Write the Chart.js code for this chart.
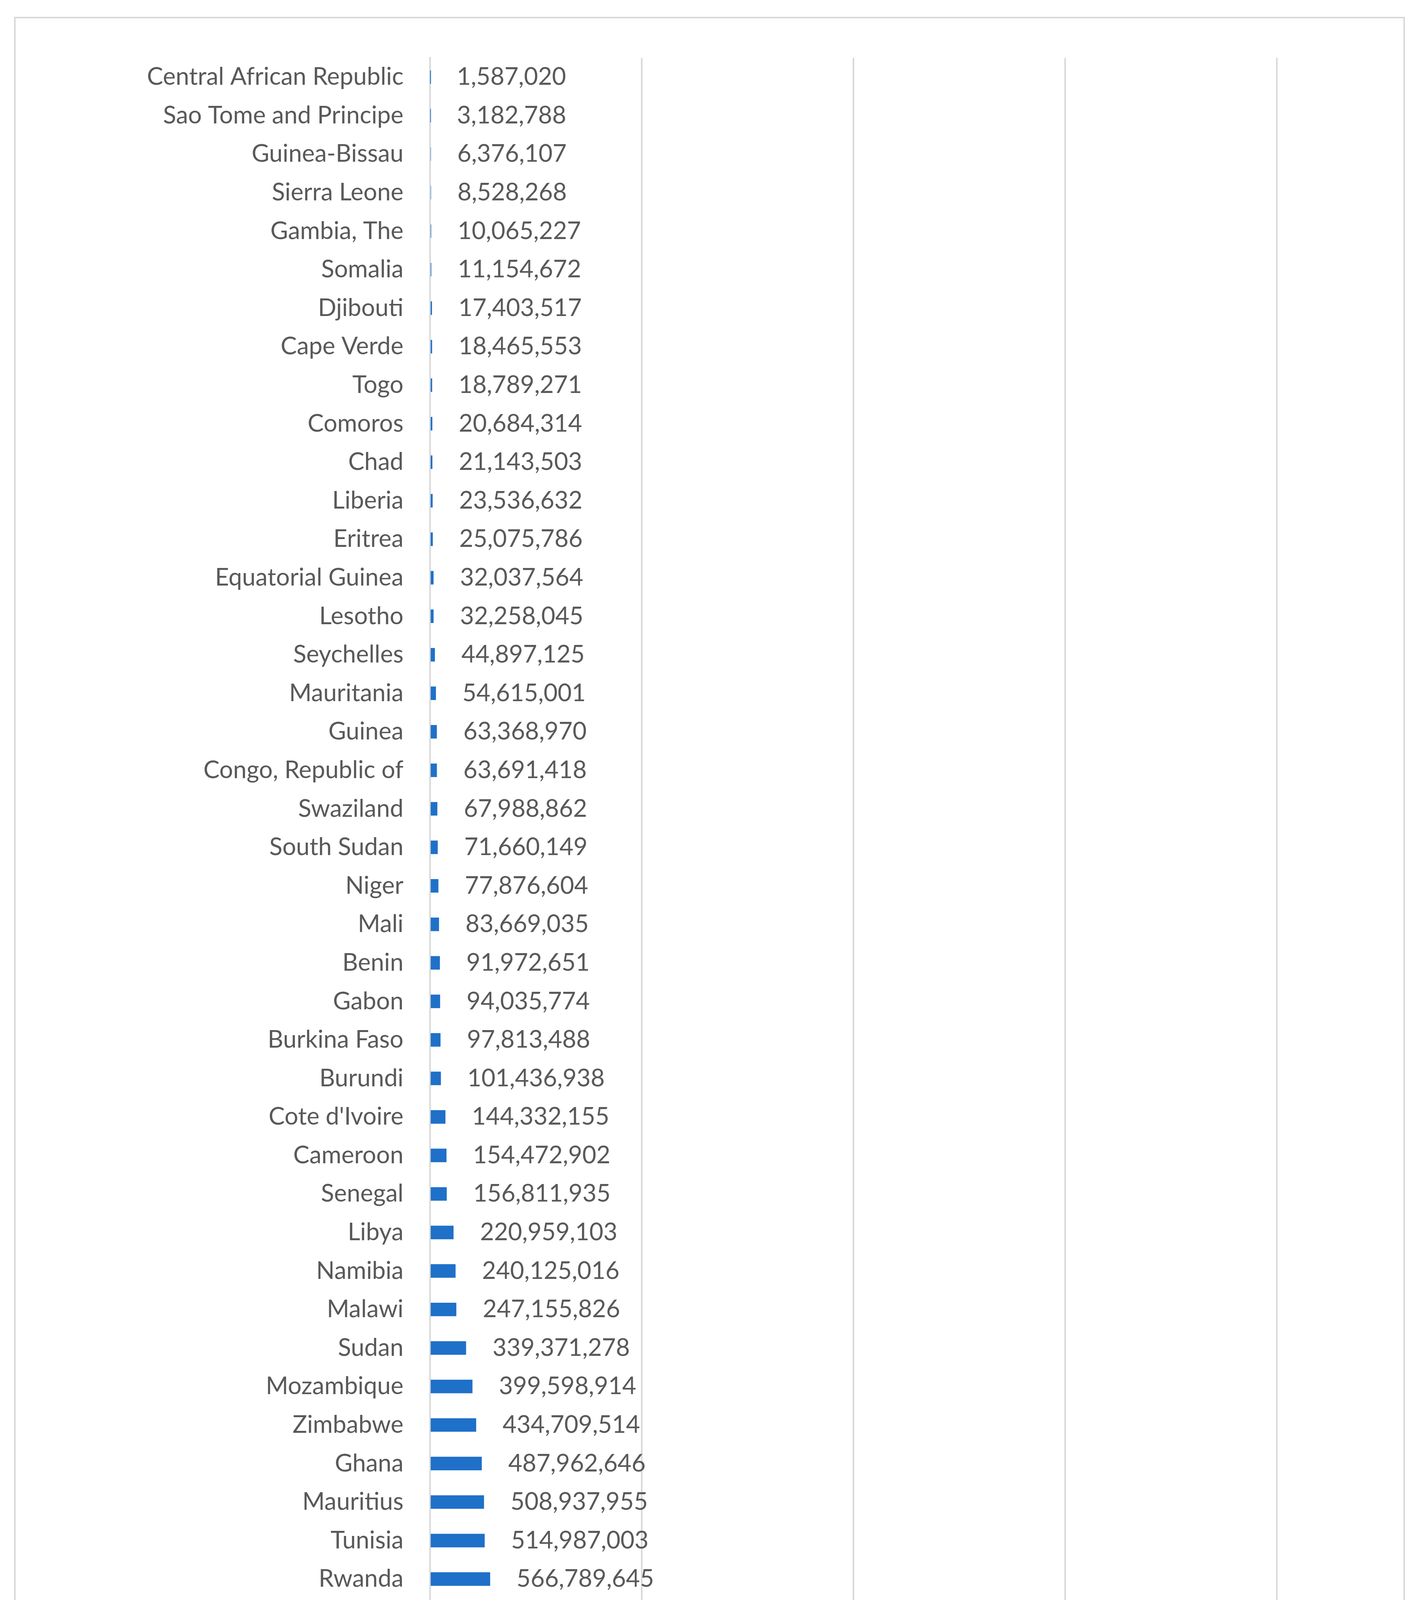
<!DOCTYPE html>
<html>
<head>
<meta charset="utf-8">
<script src="https://cdn.jsdelivr.net/npm/chart.js@4"></script>
<style>
  body{margin:0;background:#fff;}
  #wrap{position:relative;width:3633px;height:5908px;}
</style>
</head>
<body>
<div id="wrap"><canvas id="chart" width="3633" height="5908"></canvas></div>
<script>
const countries = ["Central African Republic","Sao Tome and Principe","Guinea-Bissau","Sierra Leone","Gambia, The","Somalia","Djibouti","Cape Verde","Togo","Comoros","Chad","Liberia","Eritrea","Equatorial Guinea","Lesotho","Seychelles","Mauritania","Guinea","Congo, Republic of","Swaziland","South Sudan","Niger","Mali","Benin","Gabon","Burkina Faso","Burundi","Cote d'Ivoire","Cameroon","Senegal","Libya","Namibia","Malawi","Sudan","Mozambique","Zimbabwe","Ghana","Mauritius","Tunisia","Rwanda","Botswana","Nigeria","Zambia","Congo, Democratic Republic of","Madagascar","Morocco","Uganda","Ethiopia","Algeria","Angola","Tanzania","Kenya","Egypt","South Africa"];
const values = [1587020,3182788,6376107,8528268,10065227,11154672,17403517,18465553,18789271,20684314,21143503,23536632,25075786,32037564,32258045,44897125,54615001,63368970,63691418,67988862,71660149,77876604,83669035,91972651,94035774,97813488,101436938,144332155,154472902,156811935,220959103,240125016,247155826,339371278,399598914,434709514,487962646,508937955,514987003,566789645,650154625,694000964,715750036,776068275,823766172,1157907945,1335323816,1348397948,1909014416,2547771063,2643552220,3916573442,4464420175,6800921734];
const xTicks = [0,2000000000,4000000000,6000000000,8000000000];
const axisTitle = "International Dollars (Int$)";

const FONT = "Lato, 'Open Sans', sans-serif";
const TEXT = "#595959";

const frame = {
  id:'frame',
  beforeDraw(c){
    const g = c.ctx;
    g.save();
    g.fillStyle = "#fff";
    g.fillRect(0,0,c.width,c.height);
    g.strokeStyle = "#d9d9d9";
    g.lineWidth = 4;
    g.strokeRect(38,45,3557,5839);
    g.restore();
  }
};

const valueLabels = {
  id:'valueLabels',
  afterDatasetsDraw(c){
    const g = c.ctx;
    const meta = c.getDatasetMeta(0);
    g.save();
    g.font = "62px " + FONT;
    g.fillStyle = TEXT;
    g.textBaseline = "middle";
    g.textAlign = "left";
    meta.data.forEach((bar,i)=>{
      g.fillText(values[i].toLocaleString('en-US'), bar.x + 68, bar.y);
    });
    g.restore();
  }
};

new Chart(document.getElementById("chart").getContext("2d"),{
  type:'bar',
  data:{
    labels:countries,
    datasets:[{data:values,backgroundColor:"#1f70c8",barThickness:34}]
  },
  options:{
    indexAxis:'y',
    responsive:false,
    devicePixelRatio:1,
    animation:false,
    layout:{padding:{left:40,right:364,top:148,bottom:160}},
    plugins:{legend:{display:false},tooltip:{enabled:false}},
    scales:{
      x:{
        min:0,max:8000000000,
        afterBuildTicks(s){ s.ticks = xTicks.map(v=>({value:v})); },
        ticks:{
          color:TEXT,font:{size:62,family:FONT},padding:40,maxRotation:0,
          callback:v=> v===0 ? "-" : v.toLocaleString('en-US')
        },
        grid:{color:"#d9d9d9",lineWidth:4,drawTicks:false},
        border:{display:false},
        title:{display:true,text:axisTitle,color:TEXT,font:{size:68,family:FONT},padding:{top:20,bottom:20}}
      },
      y:{
        afterFit(s){ s.width = 1061; },
        ticks:{color:TEXT,font:{size:62,family:FONT},padding:60,autoSkip:false},
        grid:{display:false},
        border:{display:true,color:"#d9d9d9",width:4}
      }
    }
  },
  plugins:[frame,valueLabels]
});
</script>
</body>
</html>
